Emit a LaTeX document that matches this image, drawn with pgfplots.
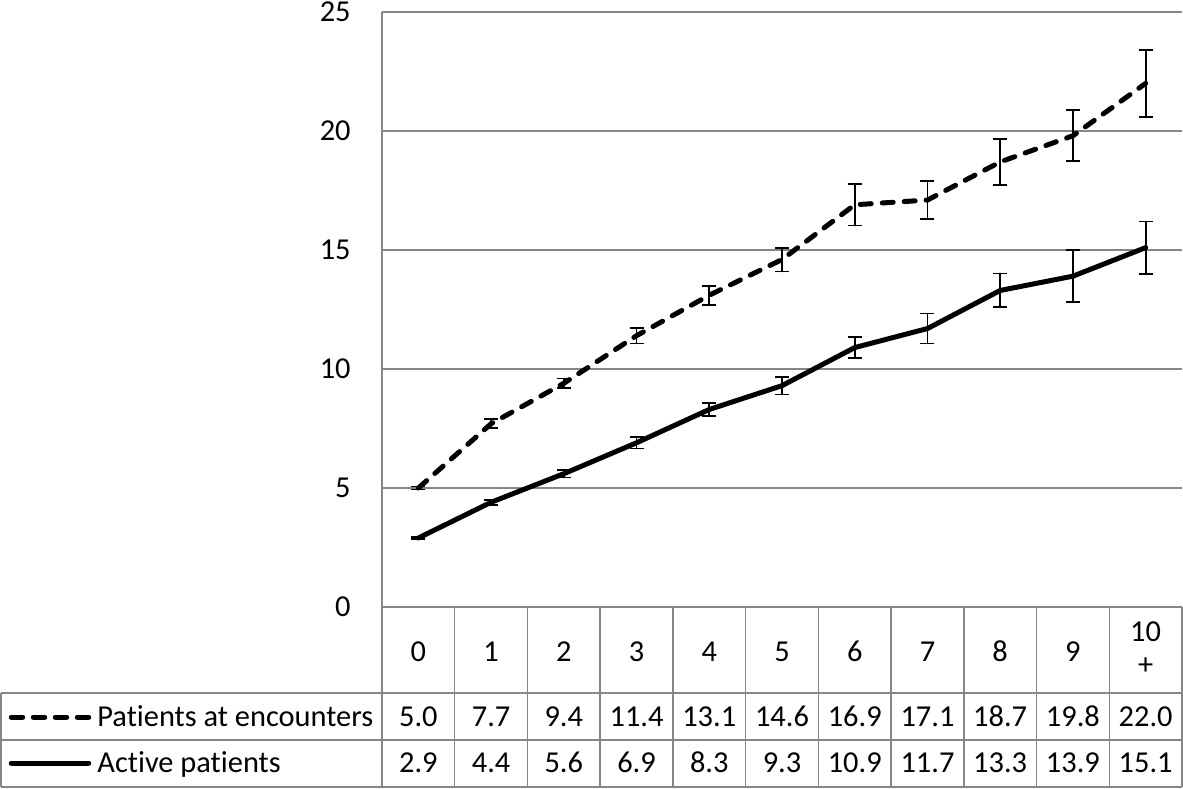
\documentclass[border=0pt]{standalone}
\usepackage{pgfplots}
\pgfplotsset{compat=1.18}
\usepackage{pgfplotstable}
\usepackage{fontspec}
\setmainfont{Carlito}[Ligatures=NoCommon]
\definecolor{gridgray}{RGB}{134,134,134}
\pgfplotstableread{
x enc encerr act acterr
0 5.0 0.06 2.9 0.04
1 7.7 0.19 4.4 0.10
2 9.4 0.20 5.6 0.16
3 11.4 0.33 6.9 0.24
4 13.1 0.40 8.3 0.28
5 14.6 0.50 9.3 0.37
6 16.9 0.87 10.9 0.44
7 17.1 0.80 11.7 0.63
8 18.7 0.96 13.3 0.71
9 19.8 1.07 13.9 1.10
10 22.0 1.40 15.1 1.10
}\data
\begin{document}
\begin{tikzpicture}[font=\fontsize{15.2}{18}\selectfont]
\path[use as bounding box] (0,0) rectangle (591.5pt,394pt);
\begin{axis}[
  at={(191pt,90.5pt)}, anchor=south west,
  scale only axis, width=400pt, height=297.5pt,
  xmin=-0.5, xmax=10.5, ymin=0, ymax=25,
  xtick=\empty, ytick={0,5,...,25},
  major tick length=0pt,
  ymajorgrids, grid style={gridgray, line width=0.75pt},
  axis x line*=bottom, axis y line*=left,
  axis line style={-, gridgray, line width=0.75pt},
  /pgf/number format/assume math mode=true,
  yticklabel style={font=\fontsize{15.2}{18}\selectfont, anchor=east, inner sep=0pt, xshift=-15.5pt},
  clip=false,
]
\addplot[black, line width=2.5pt, line cap=round, line join=round, dash pattern=on 5.5pt off 5.5pt,
  error bars/.cd, y dir=both, y explicit,
  error bar style={black, line width=0.9pt, solid},
  error mark options={rotate=90, mark size=3.5pt, black, line width=0.9pt, solid}]
  table[x=x, y=enc, y error=encerr]{\data};
\addplot[black, line width=2.5pt, line cap=round, line join=round,
  error bars/.cd, y dir=both, y explicit,
  error bar style={black, line width=0.9pt, solid},
  error mark options={rotate=90, mark size=3.5pt, black, line width=0.9pt, solid}]
  table[x=x, y=act, y error=acterr]{\data};
\end{axis}
% data table
\begin{scope}[gridgray, line width=0.75pt]
\draw (191pt,90.5pt) -- (191pt,0.5pt);
\foreach \k in {1,...,11} {
  \pgfmathsetmacro\vx{191+400/11*\k}
  \draw (\vx pt,90.5pt) -- (\vx pt,0.5pt);
}
\draw (0.5pt,47.5pt) -- (591pt,47.5pt);
\draw (0.5pt,24pt) -- (591pt,24pt);
\draw (0.5pt,0.5pt) -- (591pt,0.5pt);
\draw (0.5pt,47.5pt) -- (0.5pt,0.5pt);
\end{scope}
\foreach \i in {0,...,9} {
  \pgfmathsetmacro\cx{191+400/11*(\i+0.5)}
  \node[anchor=base, inner sep=0pt] at (\cx pt,63.25pt) {\i};
}
\pgfmathsetmacro\cx{191+400/11*10.5}
\node[anchor=base, inner sep=0pt] at (\cx pt,73.25pt) {10};
\node[anchor=base, inner sep=0pt] at (\cx pt,56.75pt) {+};
\foreach \i in {0,...,10} {
  \pgfmathsetmacro\cx{191+400/11*(\i+0.5)}
  \pgfplotstablegetelem{\i}{enc}\of\data
  \node[anchor=base, inner sep=0pt] at (\cx pt,30.75pt) {\pgfmathprintnumber[fixed, fixed zerofill, precision=1, assume math mode=true]{\pgfplotsretval}};
  \pgfplotstablegetelem{\i}{act}\of\data
  \node[anchor=base, inner sep=0pt] at (\cx pt,7.75pt) {\pgfmathprintnumber[fixed, fixed zerofill, precision=1, assume math mode=true]{\pgfplotsretval}};
}
\draw[black, line width=2.5pt, line cap=round, dash pattern=on 5.75pt off 5.25pt] (5.625pt,35.5pt) -- (44.375pt,35.5pt);
\draw[black, line width=2.5pt, line cap=round] (5.625pt,12.5pt) -- (44.375pt,12.5pt);
\node[anchor=base west, inner sep=0pt] at (48.5pt,30.75pt) {Patients at encounters};
\node[anchor=base west, inner sep=0pt] at (48.5pt,7.75pt) {Active patients};
\end{tikzpicture}
\end{document}
